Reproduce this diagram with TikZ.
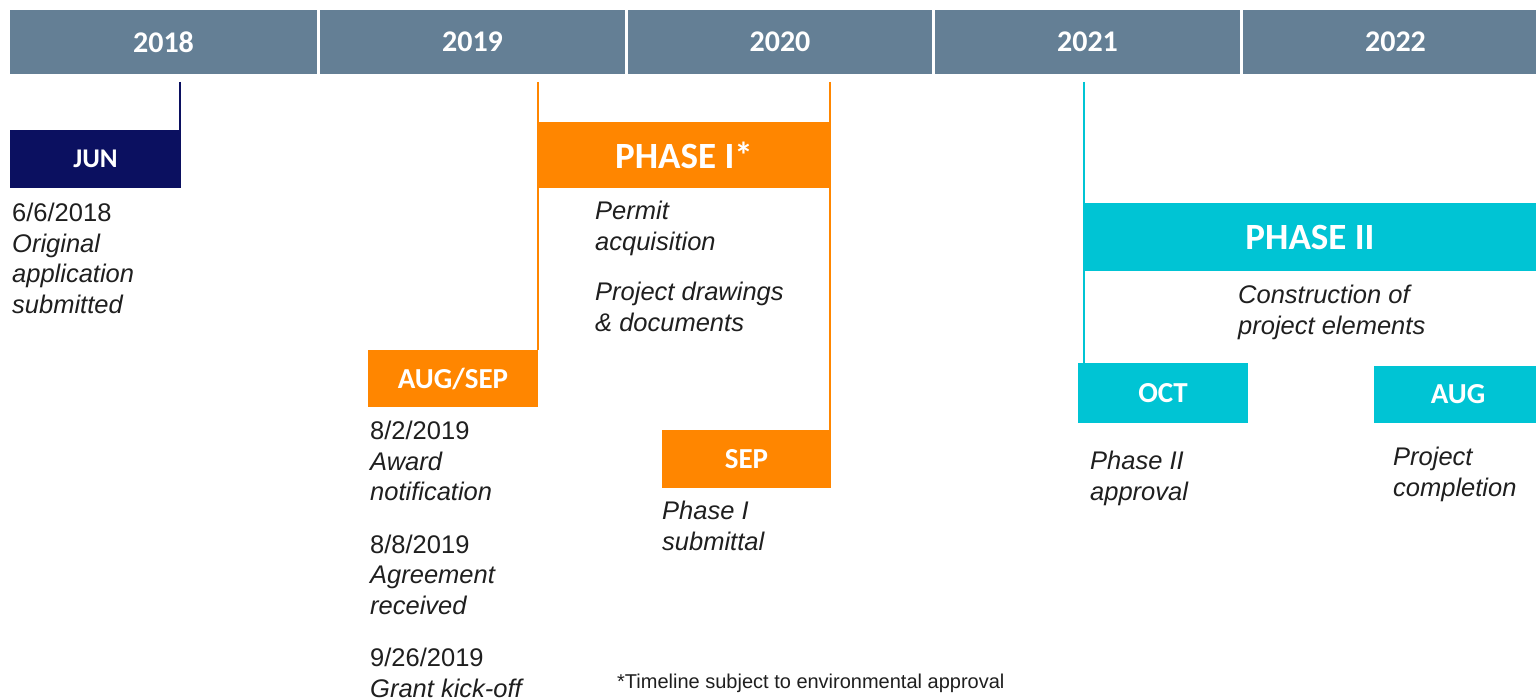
\documentclass[tikz,border=0pt]{standalone}
\usepackage{fontspec}
\setmainfont{Liberation Sans}
\newfontfamily\calfont{Carlito}
\definecolor{barc}{HTML}{647F95}
\definecolor{navy}{HTML}{0B1060}
\definecolor{orng}{HTML}{FF8600}
\definecolor{cyn}{HTML}{00C4D4}
\begin{document}
\begin{tikzpicture}[x=1pt,y=-1pt,
  yearbox/.style={fill=barc, minimum height=64pt, inner sep=0pt, text=white,
    font=\calfont\bfseries\fontsize{30}{36}\selectfont},
  monthbox/.style={minimum height=58pt, minimum width=170pt, inner sep=0pt, text=white,
    font=\calfont\bfseries\fontsize{29}{34}\selectfont},
  phasebox/.style={inner sep=0pt, text=white,
    font=\calfont\bfseries\fontsize{37}{42}\selectfont},
  txt/.style={anchor=north west, align=left, inner sep=0pt, text=black!88,
    font=\fontsize{25.5}{30.5}\selectfont},
  link/.style={line width=2pt}
]
\clip (0,0) rectangle (1536,700);
\fill[white] (0,0) rectangle (1536,700);
% year header
\node[yearbox, minimum width=307pt] (y18) at (163.5,42) {2018};
\node[yearbox, minimum width=305pt] (y19) at (472.5,42) {2019};
\node[yearbox, minimum width=304pt] (y20) at (780,42) {2020};
\node[yearbox, minimum width=305pt] (y21) at (1087.5,42) {2021};
\node[yearbox, minimum width=305pt] (y22) at (1395.5,42) {2022};
% JUN
\node[monthbox, fill=navy, minimum width=171pt, font=\calfont\bfseries\fontsize{27}{32}\selectfont] (jun) at (95.5,159) {JUN};
\coordinate (junTop) at (180,82);
\draw[link, navy] (junTop) -- (junTop |- jun.north);
\node[txt] (t18) at (12,203) {6/6/2018\\ \textit{Original}\\ \textit{application}\\ \textit{submitted}};
% Phase I
\node[monthbox, fill=orng, minimum height=57pt] (augsep) at (453,378.5) {AUG/SEP};
\node[monthbox, fill=orng, minimum width=169pt] (sep) at (746.5,459) {SEP};
\coordinate (p1L) at (538,82);
\coordinate (p1R) at (830,82);
\draw[link, orng] (p1L) -- (p1L |- augsep.north);
\draw[link, orng] (p1R) -- (p1R |- sep.north);
\node[phasebox, fill=orng, minimum width=294pt, minimum height=66pt] (p1) at (684,155) {PHASE I*};
\node[txt] (tp1) at (595,201) {\textit{Permit}\\ \textit{acquisition}\\[20pt] \textit{Project drawings}\\ \textit{\& documents}};
\node[txt] (t19) at (370,421) {8/2/2019\\ \textit{Award}\\ \textit{notification}\\[22pt] 8/8/2019\\ \textit{Agreement}\\ \textit{received}\\[22pt] 9/26/2019\\ \textit{Grant kick-off}};
\node[txt] (tsep) at (662,501) {\textit{Phase I}\\ \textit{submittal}};
% Phase II
\node[monthbox, fill=cyn, minimum height=60pt] (oct) at (1163,393) {OCT};
\coordinate (p2L) at (1084,82);
\draw[link, cyn] (p2L) -- (p2L |- oct.north);
\node[phasebox, fill=cyn, minimum width=452pt, minimum height=68pt] (p2) at (1310,237) {PHASE II};
\node[monthbox, fill=cyn, minimum width=168pt, minimum height=57pt] (aug) at (1458,394.5) {AUG};
\node[txt] (tp2) at (1238,285) {\textit{Construction of}\\ \textit{project elements}};
\node[txt] (toct) at (1090,451) {\textit{Phase II}\\ \textit{approval}};
\node[txt] (taug) at (1393,447) {\textit{Project}\\ \textit{completion}};
% footnote
\node[anchor=west, inner sep=0pt, text=black!88, font=\fontsize{20}{24}\selectfont] (fn) at (617,683) {*Timeline subject to environmental approval};
\end{tikzpicture}
\end{document}
